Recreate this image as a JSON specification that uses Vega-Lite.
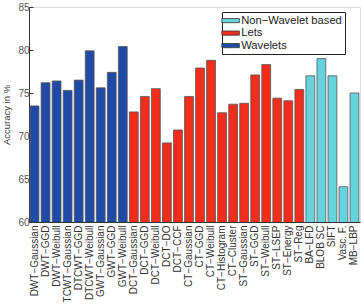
{
  "$schema": "https://vega.github.io/schema/vega-lite/v6.json",
  "width": 331,
  "height": 215,
  "autosize": {"type": "none"},
  "padding": {"left": 29, "top": 7, "right": 1, "bottom": 84},
  "background": "white",
  "data": {"values": [
    {"method": "DWT\u2212Gaussian", "group": "Wavelets", "acc": 73.5},
    {"method": "DWT\u2212GGD", "group": "Wavelets", "acc": 76.2},
    {"method": "DWT\u2212Weibull", "group": "Wavelets", "acc": 76.4},
    {"method": "TCWT\u2212Gaussian", "group": "Wavelets", "acc": 75.3},
    {"method": "DTCWT\u2212GGD", "group": "Wavelets", "acc": 76.5},
    {"method": "DTCWT\u2212Weibull", "group": "Wavelets", "acc": 79.9},
    {"method": "GWT\u2212Gaussian", "group": "Wavelets", "acc": 75.6},
    {"method": "GWT\u2212GGD", "group": "Wavelets", "acc": 77.4},
    {"method": "GWT\u2212Weibull", "group": "Wavelets", "acc": 80.4},
    {"method": "DCT\u2212Gaussian", "group": "Lets", "acc": 72.8},
    {"method": "DCT\u2212GGD", "group": "Lets", "acc": 74.6},
    {"method": "DCT\u2212Weibull", "group": "Lets", "acc": 75.5},
    {"method": "DCT\u2212DO", "group": "Lets", "acc": 69.2},
    {"method": "DCT\u2212CCF", "group": "Lets", "acc": 70.7},
    {"method": "CT\u2212Gaussian", "group": "Lets", "acc": 74.6},
    {"method": "CT\u2212GGD", "group": "Lets", "acc": 77.9},
    {"method": "CT\u2212Weibull", "group": "Lets", "acc": 78.8},
    {"method": "CT\u2212Histogram", "group": "Lets", "acc": 72.7},
    {"method": "CT\u2212Cluster", "group": "Lets", "acc": 73.7},
    {"method": "ST\u2212Gaussian", "group": "Lets", "acc": 73.8},
    {"method": "ST\u2212GGD", "group": "Lets", "acc": 77.1},
    {"method": "ST\u2212Weibull", "group": "Lets", "acc": 78.3},
    {"method": "ST\u2212LSEP", "group": "Lets", "acc": 74.4},
    {"method": "ST\u2212Energy", "group": "Lets", "acc": 74.1},
    {"method": "ST\u2212Reg", "group": "Lets", "acc": 75.4},
    {"method": "BA\u2212LFD", "group": "Non\u2212Wavelet based", "acc": 77.0},
    {"method": "BLOB SC", "group": "Non\u2212Wavelet based", "acc": 79.0},
    {"method": "SIFT", "group": "Non\u2212Wavelet based", "acc": 77.0},
    {"method": "Vasc. F.", "group": "Non\u2212Wavelet based", "acc": 64.1},
    {"method": "MB\u2212LBP", "group": "Non\u2212Wavelet based", "acc": 75.0}
  ]},
  "mark": {"type": "bar", "stroke": "#555555", "strokeWidth": 0.8, "clip": true},
  "encoding": {
    "x": {
      "field": "method", "type": "nominal", "sort": null,
      "scale": {"paddingInner": 0.2, "paddingOuter": 0.1},
      "axis": {
        "title": null, "labelAngle": -90, "labelAlign": "right", "labelBaseline": "middle",
        "labelFont": "Liberation Sans", "labelFontSize": 10, "labelColor": "#333333",
        "labelPadding": 3, "ticks": false, "domainColor": "#333333", "domainWidth": 1
      }
    },
    "y": {
      "field": "acc", "type": "quantitative",
      "scale": {"domain": [60, 85], "zero": false, "nice": false},
      "axis": {
        "title": "Accuracy in %", "titleFont": "Liberation Sans", "titleFontSize": 9.5,
        "titleFontWeight": "normal", "titleColor": "#333333", "titlePadding": 6,
        "values": [60, 65, 70, 75, 80, 85], "grid": false,
        "labelFont": "Liberation Sans", "labelFontSize": 10, "labelColor": "#555555",
        "tickSize": -4, "tickColor": "#333333", "labelPadding": 4,
        "domainColor": "#333333", "domainWidth": 1
      }
    },
    "color": {
      "field": "group", "type": "nominal",
      "scale": {
        "domain": ["Non\u2212Wavelet based", "Lets", "Wavelets"],
        "range": ["#66d3df", "#f32d1c", "#1f4aa5"]
      },
      "legend": {
        "title": null, "orient": "none", "legendX": 193, "legendY": 5,
        "strokeColor": "#222222", "fillColor": "white", "padding": 3,
        "symbolType": "M-1.75,-0.42H1.75V0.42H-1.75Z", "symbolSize": 100,
        "symbolStrokeColor": "#333333", "symbolStrokeWidth": 0.8,
        "labelFont": "Liberation Sans", "labelFontSize": 11.2, "labelColor": "#222222",
        "rowPadding": 0.5, "labelOffset": 5
      }
    }
  }
}
